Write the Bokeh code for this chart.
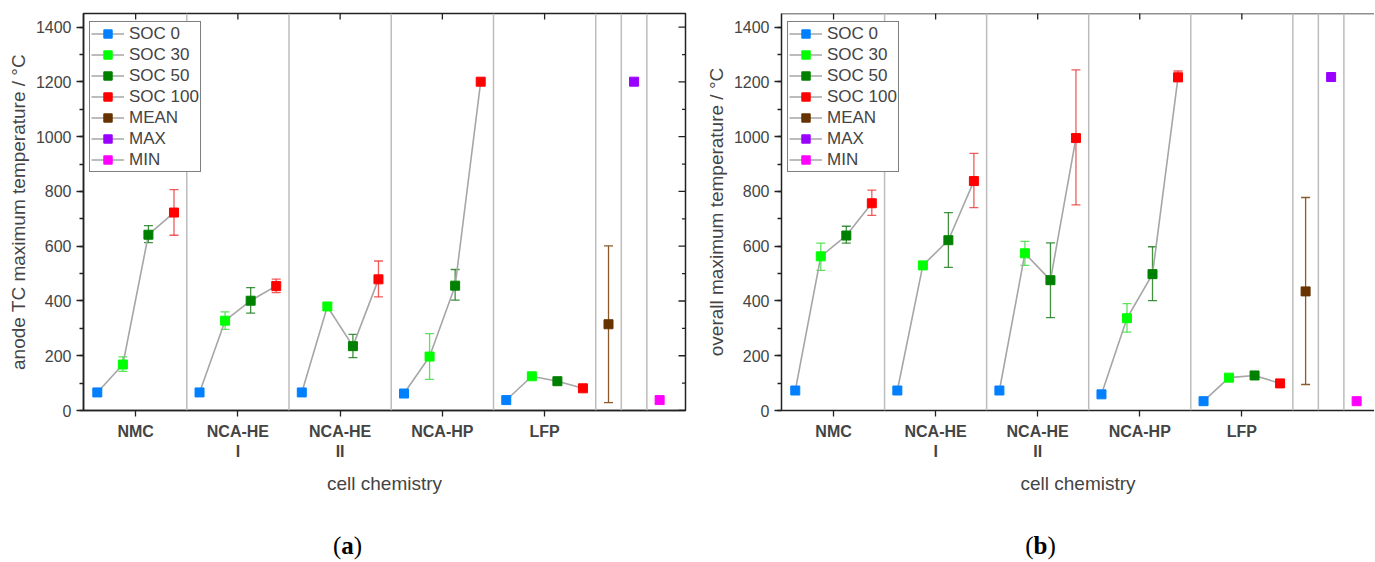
import math
from bokeh.plotting import figure
from bokeh.models import (Range1d, LinearAxis, FixedTicker, SingleIntervalTicker, Span,
                          Whisker, TeeHead, ColumnDataSource, Legend, LegendItem, Div)
from bokeh.layouts import row, column
from bokeh.embed import file_html
from bokeh.resources import INLINE

NaN = float("nan")

# ---------------- data ----------------
groups = ["NMC", "NCA-HE\nI", "NCA-HE\nII", "NCA-HP", "LFP"]
soc_labels = ["SOC 0", "SOC 30", "SOC 50", "SOC 100"]
stat_labels = ["MEAN", "MAX", "MIN"]
y_major = [0, 200, 400, 600, 800, 1000, 1200, 1400]
y_minor = [100, 300, 500, 700, 900, 1100, 1300]

# panel (a): anode TC maximum temperature
a_soc0 = [66, 66, 66, 62, 38]
a_soc0_hi = [NaN, NaN, NaN, NaN, NaN]
a_soc0_lo = [NaN, NaN, NaN, NaN, NaN]
a_soc30 = [168, 328, 380, 197, 125]
a_soc30_hi = [196, 360, NaN, 281, NaN]
a_soc30_lo = [143, 296, NaN, 114, NaN]
a_soc50 = [642, 401, 235, 456, 107]
a_soc50_hi = [675, 449, 278, 515, NaN]
a_soc50_lo = [613, 356, 193, 403, NaN]
a_soc100 = [723, 455, 479, 1201, 81]
a_soc100_hi = [807, 480, 546, NaN, 88]
a_soc100_lo = [640, 431, 415, NaN, 74]
a_mean, a_mean_hi, a_mean_lo = 315, 601, 29
a_max = 1201
a_min = 38

# panel (b): overall maximum temperature
b_soc0 = [73, 73, 73, 59, 34]
b_soc0_hi = [NaN, NaN, NaN, NaN, NaN]
b_soc0_lo = [NaN, NaN, NaN, NaN, NaN]
b_soc30 = [563, 530, 574, 337, 120]
b_soc30_hi = [611, NaN, 618, 390, NaN]
b_soc30_lo = [512, NaN, 530, 286, NaN]
b_soc50 = [639, 622, 476, 498, 128]
b_soc50_hi = [673, 723, 612, 598, NaN]
b_soc50_lo = [611, 523, 339, 401, NaN]
b_soc100 = [757, 838, 995, 1217, 99]
b_soc100_hi = [805, 939, 1244, 1240, NaN]
b_soc100_lo = [713, 741, 751, 1201, NaN]
b_mean, b_mean_hi, b_mean_lo = 435, 778, 95
b_max = 1218
b_min = 34

# ---------------- style ----------------
COLORS = {"SOC 0": "#0080ff", "SOC 30": "#00ff00", "SOC 50": "#008000", "SOC 100": "#ff0000",
          "MEAN": "#663300", "MAX": "#9900ff", "MIN": "#ff00ff"}
ERRCOL = {"SOC 0": "#0080ff", "SOC 30": "#33dd33", "SOC 50": "#117711", "SOC 100": "#ee3333",
          "MEAN": "#8a5a2a"}
OFFS = [-0.375, -0.125, 0.125, 0.375]
FONT = "Liberation Sans"
SERIF = "Liberation Serif"
AX = "#222222"
Y_END = 1450


def make_panel(ylabel, soc_vals, soc_hi, soc_lo, mean, mean_hi, mean_lo, vmax, vmin,
               width, border_left, border_right, x_end, right_side):
    ng = len(groups)
    p = figure(width=width, height=505, output_backend="svg", toolbar_location=None,
               x_range=Range1d(0.49, x_end), y_range=Range1d(0, Y_END),
               min_border_left=border_left, min_border_right=border_right,
               min_border_top=13, min_border_bottom=95,
               x_axis_location=None, y_axis_location=None)
    if right_side:
        p.outline_line_color = AX
        p.outline_line_width = 1.5
    else:
        # right edge of panel (b) lies beyond the picture: no right border line
        p.outline_line_color = None
        p.add_layout(Span(location=Y_END, dimension="width", line_color=AX, line_width=1.5))
    p.xgrid.visible = False
    p.ygrid.visible = False
    p.background_fill_color = "white"
    p.border_fill_color = "white"

    # separators
    seps = [g + 1.5 for g in range(ng)] + [ng + 0.75, ng + 1.0]
    for s in seps:
        p.add_layout(Span(location=s, dimension="height", line_color="#bdbdbd", line_width=1.5))

    xt = FixedTicker(ticks=list(range(1, ng + 1)), minor_ticks=[])
    yt = SingleIntervalTicker(interval=200, num_minor_ticks=2)

    left = LinearAxis(ticker=yt, axis_label=ylabel)
    left.axis_label_text_font = FONT
    left.axis_label_text_font_size = "19px"
    left.axis_label_text_font_style = "normal"
    left.axis_label_standoff = 4
    left.major_label_text_font = FONT
    left.major_label_text_font_size = "16px"
    left.major_label_standoff = 5
    left.major_tick_out = 7
    left.major_tick_in = 0
    left.minor_tick_out = 4
    left.minor_tick_in = 0
    left.axis_line_width = 1.5
    left.axis_line_color = AX
    left.major_tick_line_color = AX
    left.minor_tick_line_color = AX
    left.major_tick_line_width = 1.3
    left.minor_tick_line_width = 1.3
    p.add_layout(left, "left")

    bottom = LinearAxis(ticker=xt, axis_label="cell chemistry")
    bottom.major_label_overrides = {i + 1: g for i, g in enumerate(groups)}
    bottom.major_label_text_font = FONT
    bottom.major_label_text_font_size = "16px"
    bottom.major_label_text_font_style = "bold"
    bottom.major_label_standoff = 6
    bottom.major_tick_out = 6
    bottom.major_tick_in = 0
    bottom.axis_label_text_font = FONT
    bottom.axis_label_text_font_size = "19px"
    bottom.axis_label_text_font_style = "normal"
    bottom.axis_label_standoff = 10
    bottom.axis_line_width = 1.5
    bottom.axis_line_color = AX
    bottom.major_tick_line_color = AX
    bottom.major_tick_line_width = 1.3
    p.add_layout(bottom, "below")

    # inward tick marks on the top edge (and right edge for panel a), clipped to the frame
    p.scatter(list(range(1, ng + 1)), [Y_END] * ng, marker="dash", angle=math.pi / 2,
              size=12, line_color=AX, line_width=1.3)
    if right_side:
        p.scatter([x_end] * len(y_major), y_major, marker="dash", size=14,
                  line_color=AX, line_width=1.3)
        p.scatter([x_end] * len(y_minor), y_minor, marker="dash", size=7,
                  line_color=AX, line_width=1.3)

    # connecting gray lines
    xs, ys = [], []
    for gi in range(ng):
        xs.append([gi + 1 + o for o in OFFS])
        ys.append([soc_vals[k][gi] for k in range(4)])
    conn = p.multi_line(xs, ys, line_color="#a6a6a6", line_width=1.6)

    scat = {}
    for k, name in enumerate(soc_labels):
        x = [gi + 1 + OFFS[k] for gi in range(ng)]
        src = ColumnDataSource(dict(x=x, y=soc_vals[k], hi=soc_hi[k], lo=soc_lo[k]))
        w = Whisker(base="x", upper="hi", lower="lo", source=src,
                    line_color=ERRCOL[name], line_width=1.3, line_alpha=0.8,
                    upper_head=TeeHead(size=9, line_color=ERRCOL[name], line_width=1.3, line_alpha=0.8),
                    lower_head=TeeHead(size=9, line_color=ERRCOL[name], line_width=1.3, line_alpha=0.8))
        p.add_layout(w)
        scat[name] = p.scatter("x", "y", source=src, marker="square", size=9,
                               fill_color=COLORS[name], line_color=COLORS[name])

    stat_x = [ng + 0.625, ng + 0.875, ng + 1.125]
    msrc = ColumnDataSource(dict(x=[stat_x[0]], y=[mean], hi=[mean_hi], lo=[mean_lo]))
    p.add_layout(Whisker(base="x", upper="hi", lower="lo", source=msrc,
                         line_color=ERRCOL["MEAN"], line_width=1.3,
                         upper_head=TeeHead(size=9, line_color=ERRCOL["MEAN"], line_width=1.3),
                         lower_head=TeeHead(size=9, line_color=ERRCOL["MEAN"], line_width=1.3)))
    scat["MEAN"] = p.scatter("x", "y", source=msrc, marker="square", size=9,
                             fill_color=COLORS["MEAN"], line_color=COLORS["MEAN"])
    scat["MAX"] = p.scatter([stat_x[1]], [vmax], marker="square", size=9,
                            fill_color=COLORS["MAX"], line_color=COLORS["MAX"])
    scat["MIN"] = p.scatter([stat_x[2]], [vmin], marker="square", size=9,
                            fill_color=COLORS["MIN"], line_color=COLORS["MIN"])

    items = [LegendItem(label=n, renderers=[conn, scat[n]]) for n in soc_labels + stat_labels]
    leg = Legend(items=items, location=(6, 238))
    leg.label_text_font = FONT
    leg.label_text_font_size = "17px"
    leg.label_height = 21
    leg.glyph_height = 21
    leg.glyph_width = 33
    leg.spacing = 0
    leg.padding = 1
    leg.margin = 0
    leg.label_standoff = 5
    leg.border_line_color = "black"
    leg.border_line_width = 1.5
    leg.background_fill_alpha = 1.0
    p.add_layout(leg)
    return p


pa = make_panel("anode TC maximum temperature / °C",
                [a_soc0, a_soc30, a_soc50, a_soc100],
                [a_soc0_hi, a_soc30_hi, a_soc50_hi, a_soc100_hi],
                [a_soc0_lo, a_soc30_lo, a_soc50_lo, a_soc100_lo],
                a_mean, a_mean_hi, a_mean_lo, a_max, a_min,
                width=695, border_left=83, border_right=10, x_end=6.378, right_side=True)
pb = make_panel("overall maximum temperature / °C",
                [b_soc0, b_soc30, b_soc50, b_soc100],
                [b_soc0_hi, b_soc30_hi, b_soc50_hi, b_soc100_hi],
                [b_soc0_lo, b_soc30_lo, b_soc50_lo, b_soc100_lo],
                b_mean, b_mean_hi, b_mean_lo, b_max, b_min,
                width=679, border_left=86, border_right=0, x_end=6.30, right_side=False)


def letter_div(letter, width, shift):
    html = ('<div style="width:%dpx;text-align:center;padding-top:27px;padding-left:%dpx;'
            'box-sizing:border-box;font-family:\'%s\';font-size:25px;line-height:28px;color:black">'
            '(<b>%s</b>)</div>') % (width, shift, SERIF, letter)
    return Div(text=html, width=width, height=56, margin=0)


da = letter_div("a", 695, 0)
db = letter_div("b", 679, 12)

layout = column(row(pa, pb), row(da, db))
open("out.html", "w").write(file_html(layout, INLINE))
